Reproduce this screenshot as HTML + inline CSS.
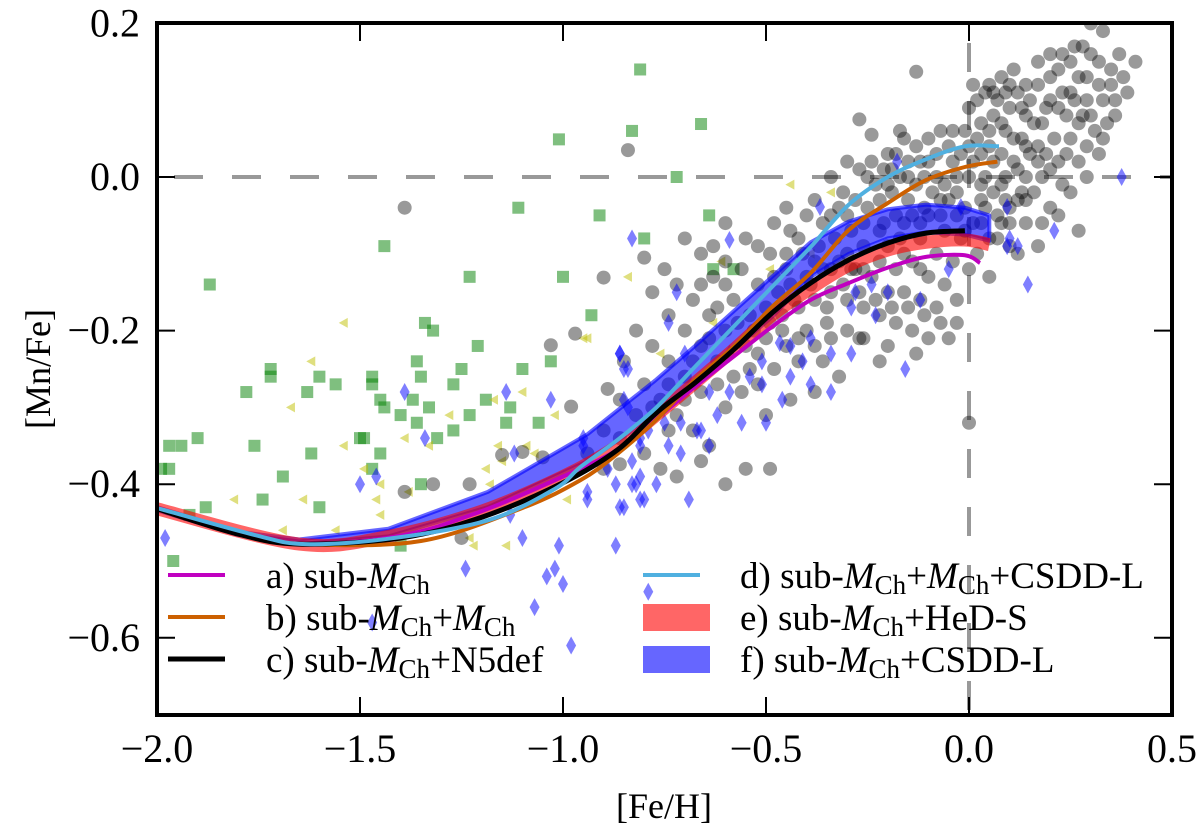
<!DOCTYPE html>
<html><head><meta charset="utf-8"><style>
html,body{margin:0;padding:0;background:#fff;}
svg{display:block;font-family:"Liberation Serif",serif;}
</style></head><body>
<svg id="chart" width="1200" height="832" viewBox="0 0 1200 832"></svg>
<script>
const xTicks=[-2.0,-1.5,-1.0,-0.5,0.0,0.5];
const xTickLabels=["\u22122.0","\u22121.5","\u22121.0","\u22120.5","0.0","0.5"];
const yTicks=[0.2,0.0,-0.2,-0.4,-0.6];
const yTickLabels=["0.2","0.0","\u22120.2","\u22120.4","\u22120.6"];
const starsBlack=[[0.3,0.2],[0.33,0.19],[0.41,0.15],[0.37,0.16],[0.38,0.13],[0.35,0.14],[0.28,0.17],[0.3,0.16],[0.25,0.15],[0.27,0.13],[0.32,0.12],[0.22,0.14],[0.2,0.13],[0.23,0.11],[0.26,0.1],[0.29,0.1],[0.33,0.1],[0.3,0.08],[0.36,0.1],[0.34,0.07],[0.27,0.07],[0.24,0.08],[0.2,0.1],[0.17,0.12],[0.15,0.1],[0.12,0.11],[0.1,0.09],[0.14,0.08],[0.18,0.07],[0.21,0.05],[0.25,0.05],[0.29,0.04],[0.32,0.03],[0.22,0.02],[0.17,0.04],[0.13,0.05],[0.09,0.06],[0.06,0.08],[0.03,0.07],[0.0,0.09],[0.02,0.05],[0.05,0.04],[0.08,0.03],[0.11,0.02],[0.14,0.0],[0.18,0.0],[0.23,-0.01],[0.27,-0.07],[0.2,-0.04],[0.12,-0.03],[0.08,-0.01],[0.04,0.0],[0.01,0.02],[-0.02,0.03],[-0.05,0.04],[-0.08,0.03],[-0.03,0.0],[-0.06,-0.01],[-0.1,0.02],[-0.13,0.04],[-0.16,0.05],[-0.2,0.03],[-0.17,0.0],[-0.13,-0.01],[-0.09,-0.02],[-0.05,-0.03],[-0.01,-0.04],[0.03,-0.03],[0.07,-0.05],[0.1,-0.06],[0.14,-0.06],[0.1,-0.09],[0.05,-0.08],[0.02,-0.1],[-0.02,-0.08],[-0.07,-0.05],[-0.11,-0.04],[-0.15,-0.03],[-0.19,-0.02],[-0.23,-0.01],[-0.27,0.01],[-0.3,0.02],[-0.25,-0.04],[-0.21,-0.06],[-0.17,-0.08],[-0.12,-0.08],[0.0,-0.12],[0.05,-0.13],[0.12,-0.1],[0.17,-0.09],[0.0,-0.32],[-0.49,-0.38],[-0.32,-0.04],[-0.36,-0.06],[-0.4,-0.05],[-0.44,-0.07],[-0.48,-0.06],[-0.52,-0.09],[-0.45,-0.1],[-0.41,-0.1],[-0.37,-0.09],[-0.33,-0.08],[-0.29,-0.07],[-0.26,-0.09],[-0.22,-0.11],[-0.18,-0.12],[-0.14,-0.11],[-0.1,-0.13],[-0.06,-0.14],[-0.03,-0.16],[-0.08,-0.17],[-0.12,-0.16],[-0.16,-0.15],[-0.2,-0.15],[-0.24,-0.13],[-0.28,-0.12],[-0.32,-0.11],[-0.36,-0.12],[-0.4,-0.13],[-0.44,-0.14],[-0.48,-0.13],[-0.52,-0.14],[-0.56,-0.12],[-0.6,-0.11],[-0.63,-0.09],[-0.66,-0.1],[-0.7,-0.08],[-0.58,-0.16],[-0.54,-0.18],[-0.5,-0.17],[-0.46,-0.18],[-0.42,-0.17],[-0.38,-0.16],[-0.34,-0.15],[-0.3,-0.16],[-0.26,-0.17],[-0.22,-0.18],[-0.18,-0.19],[-0.14,-0.2],[-0.1,-0.21],[-0.05,-0.21],[-0.13,-0.23],[-0.2,-0.22],[-0.26,-0.21],[-0.3,-0.2],[-0.35,-0.19],[-0.4,-0.2],[-0.45,-0.22],[-0.5,-0.21],[-0.55,-0.22],[-0.6,-0.2],[-0.64,-0.18],[-0.68,-0.16],[-0.72,-0.14],[-0.75,-0.12],[-0.78,-0.15],[-0.74,-0.18],[-0.7,-0.2],[-0.66,-0.22],[-0.62,-0.24],[-0.58,-0.26],[-0.54,-0.25],[-0.48,-0.25],[-0.42,-0.24],[-0.36,-0.24],[-0.32,-0.26],[-0.38,-0.28],[-0.44,-0.29],[-0.6,-0.3],[-0.66,-0.28],[-0.7,-0.26],[-0.74,-0.24],[-0.78,-0.22],[-0.82,-0.2],[-0.85,-0.24],[-0.8,-0.27],[-0.76,-0.29],[-0.72,-0.31],[-0.68,-0.33],[-0.64,-0.35],[-0.82,-0.31],[-0.86,-0.29],[-0.9,-0.33],[-0.86,-0.34],[-0.8,-0.36],[-0.76,-0.38],[-0.72,-0.39],[-0.9,-0.38],[-0.94,-0.36],[-0.6,-0.4],[-0.55,-0.38],[-0.5,-0.31],[-0.29,-0.12],[-0.45,-0.04],[-0.55,-0.08],[-0.6,-0.06],[-0.27,-0.21],[-0.22,-0.24],[-0.27,0.075],[-0.24,0.055],[-0.17,0.06],[-0.13,0.137],[0.06,0.11],[0.09,0.11],[-0.84,0.035],[-1.39,-0.04],[-0.8,-0.105],[-0.9,-0.131],[-0.97,-0.204],[-1.03,-0.219],[-0.89,-0.276],[-0.98,-0.299],[-1.15,-0.362],[-1.1,-0.358],[-1.05,-0.365],[-1.32,-0.4],[-1.23,-0.4],[-1.39,-0.41],[-1.25,-0.47],[-0.86,-0.374]];
const starsBlackDense=[[-0.34,0.0],[-0.31,-0.02],[-0.28,-0.03],[-0.25,0.0],[-0.22,-0.03],[-0.19,0.01],[-0.15,0.0],[-0.11,0.0],[-0.08,0.0],[-0.04,0.02],[0.0,0.04],[0.03,0.03],[0.06,0.02],[0.09,0.0],[0.12,0.01],[0.15,0.03],[0.19,0.03],[0.24,0.03],[0.27,0.02],[0.31,0.06],[0.28,0.08],[0.25,0.11],[0.22,0.09],[0.19,0.09],[0.16,0.07],[0.13,0.09],[0.1,0.12],[0.07,0.1],[0.04,0.11],[0.01,0.12],[0.05,0.06],[0.08,0.07],[0.11,0.05],[0.14,0.04],[0.17,0.02],[0.2,0.01],[0.16,-0.02],[0.13,-0.02],[0.09,-0.03],[0.06,-0.02],[0.03,-0.01],[0.0,0.0],[-0.03,-0.02],[-0.07,-0.03],[-0.1,-0.05],[-0.14,-0.05],[-0.18,-0.05],[-0.22,-0.07],[-0.26,-0.06],[-0.3,-0.05],[-0.34,-0.05],[-0.38,-0.03],[-0.42,-0.08],[-0.38,-0.11],[-0.34,-0.12],[-0.3,-0.1],[-0.26,-0.12],[-0.2,-0.09],[-0.16,-0.1],[-0.12,-0.12],[-0.08,-0.1],[-0.04,-0.11],[-0.01,-0.07],[0.03,-0.06],[0.07,-0.08],[0.1,-0.04],[0.14,-0.03],[0.18,-0.06],[0.22,-0.05],[0.25,-0.02],[0.29,0.0],[0.33,0.05],[0.36,0.08],[0.39,0.11],[0.35,0.12],[0.32,0.15],[0.29,0.13],[0.26,0.17],[0.23,0.16],[0.2,0.16],[0.17,0.15],[0.14,0.12],[0.11,0.14],[0.08,0.13],[0.05,0.12],[0.02,0.1],[-0.01,0.06],[-0.04,0.06],[-0.07,0.06],[-0.1,0.05],[-0.12,0.02],[-0.15,0.02],[-0.18,0.03],[-0.21,0.01],[-0.24,0.02],[-0.2,-0.01],[-0.16,-0.06],[-0.12,-0.06],[-0.06,-0.07],[-0.03,-0.05],[0.01,-0.06],[0.04,-0.04],[0.08,-0.06],[-0.45,-0.12],[-0.49,-0.1],[-0.47,-0.15],[-0.43,-0.16],[-0.39,-0.14],[-0.35,-0.17],[-0.31,-0.14],[-0.27,-0.15],[-0.23,-0.16],[-0.19,-0.17],[-0.15,-0.17],[-0.11,-0.18],[-0.07,-0.19],[-0.03,-0.19],[-0.6,-0.14],[-0.63,-0.13],[-0.57,-0.19],[-0.62,-0.17],[-0.66,-0.14],[-0.53,-0.2],[-0.49,-0.19],[-0.52,-0.23],[-0.46,-0.2],[-0.42,-0.21],[-0.38,-0.22],[-0.34,-0.21],[-0.56,-0.28],[-0.52,-0.27],[-0.62,-0.27],[-0.68,-0.24],[-0.64,-0.21],[-0.7,-0.29],[-0.74,-0.27],[-0.78,-0.3],[-0.74,-0.33],[-0.66,-0.37]];
const starsBlue=[[-1.98,-0.47],[-1.39,-0.28],[-1.5,-0.4],[-1.46,-0.39],[-1.34,-0.34],[-1.14,-0.28],[-1.12,-0.36],[-1.03,-0.29],[-0.95,-0.35],[-1.13,-0.44],[-1.1,-0.47],[-1.01,-0.48],[-1.24,-0.51],[-1.04,-0.52],[-1.02,-0.51],[-1.0,-0.53],[-1.07,-0.56],[-0.98,-0.61],[-1.47,-0.58],[-0.87,-0.48],[-0.79,-0.54],[-0.83,-0.08],[-0.86,-0.23],[-0.85,-0.25],[-0.94,-0.41],[-0.87,-0.4],[-0.86,-0.43],[-0.82,-0.4],[-0.81,-0.42],[-0.83,-0.37],[-0.85,-0.29],[-0.84,-0.3],[-0.81,-0.34],[-0.59,-0.082],[-0.367,-0.039],[-0.177,0.02],[-0.02,-0.039],[0.094,-0.039],[0.1,-0.08],[0.094,-0.09],[0.12,-0.09],[0.21,-0.07],[0.376,0.0],[0.145,-0.14],[-0.12,-0.16],[-0.05,-0.12],[-0.23,-0.18],[-0.29,-0.17],[-0.28,-0.15],[-0.2,-0.15],[-0.24,-0.14],[-0.157,-0.25],[-0.29,-0.23],[-0.34,-0.23],[-0.39,-0.21],[-0.44,-0.22],[-0.466,-0.216],[-0.51,-0.24],[-0.41,-0.24],[-0.34,-0.28],[-0.39,-0.27],[-0.44,-0.26],[-0.46,-0.29],[-0.51,-0.27],[-0.54,-0.26],[-0.5,-0.32],[-0.56,-0.32],[-0.59,-0.28],[-0.64,-0.28],[-0.66,-0.33],[-0.71,-0.32],[-0.72,-0.15],[-0.74,-0.19],[-0.7,-0.23],[-0.64,-0.35],[-0.67,-0.33],[-0.71,-0.36],[-0.74,-0.35],[-0.81,-0.35],[-0.79,-0.33],[-0.69,-0.42],[-0.77,-0.4],[-0.81,-0.39],[-0.83,-0.4],[-0.85,-0.43],[-0.8,-0.42],[-0.86,-0.23],[-0.84,-0.25],[-0.89,-0.38],[-0.94,-0.42],[-0.95,-0.34],[-0.75,-0.32],[-0.59,-0.23],[-0.62,-0.31]];
const starsGreen=[[-0.81,0.14],[-0.83,0.06],[-1.01,0.049],[-1.11,-0.04],[-0.91,-0.05],[-0.8,-0.08],[-1.44,-0.09],[-1.23,-0.13],[-1.0,-0.13],[-1.87,-0.14],[-0.93,-0.18],[-1.34,-0.19],[-1.32,-0.2],[-1.21,-0.22],[-1.36,-0.24],[-1.72,-0.25],[-1.72,-0.26],[-1.6,-0.26],[-1.47,-0.26],[-1.1,-0.25],[-1.03,-0.24],[-1.35,-0.26],[-1.25,-0.25],[-1.27,-0.27],[-1.56,-0.27],[-1.47,-0.27],[-1.78,-0.28],[-1.63,-0.28],[-1.45,-0.29],[-1.37,-0.29],[-1.44,-0.3],[-1.33,-0.3],[-1.19,-0.29],[-1.13,-0.3],[-1.4,-0.31],[-1.23,-0.31],[-1.36,-0.32],[-1.14,-0.32],[-1.06,-0.32],[-1.27,-0.33],[-1.97,-0.35],[-1.94,-0.35],[-1.9,-0.34],[-1.76,-0.35],[-1.5,-0.34],[-1.49,-0.34],[-1.31,-0.34],[-1.62,-0.36],[-1.45,-0.36],[-1.99,-0.38],[-1.97,-0.38],[-1.69,-0.39],[-1.47,-0.38],[-1.35,-0.4],[-1.74,-0.42],[-1.6,-0.43],[-1.88,-0.43],[-1.92,-0.44],[-1.4,-0.48],[-1.96,-0.5],[-0.66,0.069],[-0.72,0.0],[-0.64,-0.05],[-0.63,-0.12],[-0.58,-0.12]];
const starsYellow=[[-1.54,-0.19],[-1.62,-0.24],[-1.67,-0.3],[-1.1,-0.28],[-1.17,-0.29],[-1.28,-0.31],[-1.02,-0.31],[-1.39,-0.34],[-1.54,-0.35],[-1.33,-0.35],[-1.16,-0.35],[-1.09,-0.35],[-1.07,-0.36],[-1.15,-0.37],[-1.49,-0.38],[-1.19,-0.38],[-1.45,-0.4],[-1.18,-0.4],[-1.38,-0.41],[-1.81,-0.42],[-1.64,-0.42],[-1.46,-0.42],[-0.99,-0.42],[-1.45,-0.44],[-1.69,-0.46],[-1.56,-0.46],[-1.23,-0.47],[-1.22,-0.48],[-1.14,-0.48],[-0.84,-0.13],[-0.94,-0.21],[-0.44,-0.01],[-0.34,-0.02],[-0.61,-0.11],[-0.49,-0.12],[-0.39,-0.1],[-0.95,-0.21],[-0.76,-0.23],[-0.63,-0.19]];
const feBlueBand=[-2.0,-1.8,-1.65,-1.43,-1.185,-0.94,-0.773,-0.675,-0.58,-0.485,-0.39,-0.296,-0.2,-0.106,-0.01,0.05];
const mnBlueUpper=[-0.43,-0.462,-0.472,-0.458,-0.41,-0.335,-0.265,-0.22,-0.175,-0.13,-0.085,-0.058,-0.042,-0.036,-0.04,-0.05];
const mnBlueLower=[-0.434,-0.466,-0.478,-0.468,-0.43,-0.37,-0.31,-0.265,-0.225,-0.182,-0.13,-0.1,-0.08,-0.072,-0.075,-0.083];
const feRedBand=[-2.0,-1.65,-1.43,-1.2,-1.0,-0.865,-0.77,-0.675,-0.58,-0.485,-0.39,-0.296,-0.2,-0.106,-0.01,0.05];
const mnRedBand=[-0.432,-0.478,-0.468,-0.435,-0.39,-0.35,-0.31,-0.268,-0.225,-0.18,-0.145,-0.115,-0.095,-0.085,-0.082,-0.088];
const feMagenta=[-2.0,-1.8,-1.65,-1.4,-1.2,-1.0,-0.865,-0.77,-0.675,-0.58,-0.485,-0.39,-0.296,-0.2,-0.106,-0.01,0.027];
const mnMagenta=[-0.432,-0.465,-0.478,-0.467,-0.435,-0.39,-0.355,-0.315,-0.273,-0.234,-0.195,-0.16,-0.138,-0.118,-0.104,-0.102,-0.112];
const feOrange=[-2.0,-1.8,-1.635,-1.35,-1.1,-0.958,-0.865,-0.77,-0.675,-0.58,-0.485,-0.39,-0.296,-0.2,-0.106,-0.01,0.07];
const mnOrange=[-0.432,-0.465,-0.478,-0.474,-0.431,-0.395,-0.36,-0.316,-0.264,-0.221,-0.169,-0.125,-0.069,-0.034,-0.004,0.013,0.02];
const feBlack=[-2.0,-1.8,-1.65,-1.4,-1.2,-1.0,-0.865,-0.77,-0.675,-0.58,-0.485,-0.39,-0.296,-0.2,-0.106,-0.01];
const mnBlack=[-0.432,-0.465,-0.478,-0.47,-0.443,-0.398,-0.355,-0.307,-0.268,-0.225,-0.177,-0.138,-0.108,-0.086,-0.073,-0.07];
const feCyan=[-2.0,-1.76,-1.635,-1.43,-1.185,-1.02,-0.958,-0.865,-0.77,-0.675,-0.58,-0.485,-0.39,-0.296,-0.2,-0.106,-0.01,0.074];
const mnCyan=[-0.431,-0.466,-0.478,-0.471,-0.447,-0.406,-0.378,-0.342,-0.3,-0.247,-0.195,-0.143,-0.091,-0.036,0.0,0.023,0.04,0.04];

const NS="http://www.w3.org/2000/svg";
const svg=document.getElementById('chart');
const X0=157,X1=1172,Y0=23,Y1=715;
const sx=v=>X0+(v-(-2.0))/(0.5-(-2.0))*(X1-X0);
const sy=v=>177-v*768;
function mk(tag,attrs,parent){const e=document.createElementNS(NS,tag);for(const k in attrs)e.setAttribute(k,attrs[k]);(parent||svg).appendChild(e);return e;}
function txt(s,x,y,size,anchor,parent){const t=mk('text',{x:x,y:y,'font-size':size,'text-anchor':anchor||'start',fill:'#000'},parent);t.textContent=s;return t;}
function smooth(xs,ys){const P=xs.map((v,i)=>[sx(v),sy(ys[i])]);let d='M'+P[0][0].toFixed(1)+','+P[0][1].toFixed(1);
 for(let i=0;i<P.length-1;i++){const p0=P[Math.max(0,i-1)],p1=P[i],p2=P[i+1],p3=P[Math.min(P.length-1,i+2)];
 const c1=[p1[0]+(p2[0]-p0[0])/6,p1[1]+(p2[1]-p0[1])/6],c2=[p2[0]-(p3[0]-p1[0])/6,p2[1]-(p3[1]-p1[1])/6];
 d+=` C${c1[0].toFixed(1)},${c1[1].toFixed(1)} ${c2[0].toFixed(1)},${c2[1].toFixed(1)} ${p2[0].toFixed(1)},${p2[1].toFixed(1)}`;}
 return d;}

const defs=mk('defs',{});
const cp=mk('clipPath',{id:'plotclip'},defs);
mk('rect',{x:X0,y:Y0,width:X1-X0,height:Y1-Y0},cp);
const plot=mk('g',{'clip-path':'url(#plotclip)'});



const hz=mk('line',{x1:X0,x2:X1,y1:sy(0),y2:sy(0),stroke:'#999',"stroke-width":4,"stroke-dasharray":"29 29","stroke-dashoffset":"-17"},plot);


const vz=mk('line',{x1:sx(0),x2:sx(0),y1:Y0,y2:Y1,stroke:'#999',"stroke-width":4,"stroke-dasharray":"29 29","stroke-dashoffset":"-20"},plot);



const gG=mk('g',{},plot);


starsGreen.forEach(p=>{const r=mk('rect',{x:sx(p[0])-6,y:sy(p[1])-6,width:12,height:12,fill:'rgba(0,128,0,0.5)'},gG);

});

const gY=mk('g',{},plot);


starsYellow.forEach(p=>{const x=sx(p[0]),y=sy(p[1]);const t=mk('polygon',{points:`${x-5},${y} ${x+4},${y-5} ${x+4},${y+5}`,fill:'rgba(191,191,0,0.5)'},gY);

});

const gK=mk('g',{},plot);


starsBlack.concat(starsBlackDense).forEach(p=>{const c=mk('circle',{cx:sx(p[0]),cy:sy(p[1]),r:7,fill:'rgba(0,0,0,0.4)'},gK);

});

const gB=mk('g',{},plot);


starsBlue.forEach(p=>{const x=sx(p[0]),y=sy(p[1]);const d=mk('polygon',{points:`${x},${y-9} ${x+5},${y} ${x},${y+9} ${x-5},${y}`,fill:'rgba(0,0,255,0.5)'},gB);

});

const up=feBlueBand.map((v,i)=>sx(v).toFixed(1)+','+sy(mnBlueUpper[i]).toFixed(1));
const lo=feBlueBand.map((v,i)=>sx(v).toFixed(1)+','+sy(mnBlueLower[i]).toFixed(1)).reverse();
const band1=mk('polygon',{points:up.concat(lo).join(' '),fill:'rgba(0,0,255,0.6)',stroke:'rgba(0,0,255,0.6)','stroke-width':4,'stroke-linejoin':'round'},plot);


const band2=mk('path',{d:smooth(feRedBand,mnRedBand),fill:'none',stroke:'rgba(255,0,0,0.6)','stroke-width':13,'stroke-linejoin':'round'},plot);


const l1=mk('path',{d:smooth(feMagenta,mnMagenta),fill:'none',stroke:'#c000c0','stroke-width':4},plot);


const l2=mk('path',{d:smooth(feOrange,mnOrange),fill:'none',stroke:'#cc6000','stroke-width':4},plot);


const l3=mk('path',{d:smooth(feBlack,mnBlack),fill:'none',stroke:'#000','stroke-width':5},plot);


const l4=mk('path',{d:smooth(feCyan,mnCyan),fill:'none',stroke:'#50b0e0','stroke-width':4},plot);



const fr=mk('rect',{x:X0,y:Y0,width:X1-X0,height:Y1-Y0,fill:'none',stroke:'#000','stroke-width':4});



const gx=mk('g',{});


xTicks.forEach((v,i)=>{const x=sx(v);
 mk('line',{x1:x,x2:x,y1:Y1,y2:Y1-18,stroke:'#000','stroke-width':2},gx);
 mk('line',{x1:x,x2:x,y1:Y0,y2:Y0+18,stroke:'#000','stroke-width':2},gx);
 const t=txt(xTickLabels[i],x,762,40,'middle',gx);
 
 });
const gy=mk('g',{});


yTicks.forEach((v,i)=>{const y=sy(v);
 mk('line',{x1:X0,x2:X0+18,y1:y,y2:y,stroke:'#000','stroke-width':2},gy);
 mk('line',{x1:X1,x2:X1-18,y1:y,y2:y,stroke:'#000','stroke-width':2},gy);
 const t=txt(yTickLabels[i],140,y+13,40,'end',gy);
 
 });
const xt=txt('[Fe/H]',664,818,36,'middle');


const yt=txt('[Mn/Fe]',0,0,36,'middle');
yt.setAttribute('transform','translate(50,369) rotate(-90)');


</script>
<svg width="1200" height="832" style="position:absolute;left:0;top:0;font-family:'Liberation Serif',serif">
 <g><line x1="168" x2="225" y1="575" y2="575" stroke="#c000c0" stroke-width="4"/><text x="266" y="588" font-size="37">a) sub-<tspan font-style="italic">M</tspan><tspan font-size="27" dy="6">Ch</tspan></text></g>
 <g><line x1="168" x2="225" y1="617" y2="617" stroke="#cc6000" stroke-width="4"/><text x="266" y="630" font-size="37">b) sub-<tspan font-style="italic">M</tspan><tspan font-size="27" dy="6">Ch</tspan><tspan dy="-6">+</tspan><tspan font-style="italic">M</tspan><tspan font-size="27" dy="6">Ch</tspan></text></g>
 <g><line x1="168" x2="225" y1="659" y2="659" stroke="#000" stroke-width="5"/><text x="266" y="672" font-size="37">c) sub-<tspan font-style="italic">M</tspan><tspan font-size="27" dy="6">Ch</tspan><tspan dy="-6">+N5def</tspan></text></g>
 <g><line x1="643" x2="700" y1="575" y2="575" stroke="#50b0e0" stroke-width="4"/><text x="740" y="588" font-size="37">d) sub-<tspan font-style="italic">M</tspan><tspan font-size="27" dy="6">Ch</tspan><tspan dy="-6">+</tspan><tspan font-style="italic">M</tspan><tspan font-size="27" dy="6">Ch</tspan><tspan dy="-6">+CSDD-L</tspan></text></g>
 <g><rect x="643" y="604" width="67" height="27" fill="rgba(255,0,0,0.6)"/><text x="740" y="630" font-size="37">e) sub-<tspan font-style="italic">M</tspan><tspan font-size="27" dy="6">Ch</tspan><tspan dy="-6">+HeD-S</tspan></text></g>
 <g><rect x="643" y="646" width="67" height="27" fill="rgba(0,0,255,0.6)"/><text x="740" y="672" font-size="37">f) sub-<tspan font-style="italic">M</tspan><tspan font-size="27" dy="6">Ch</tspan><tspan dy="-6">+CSDD-L</tspan></text></g>
</svg>
</body></html>
